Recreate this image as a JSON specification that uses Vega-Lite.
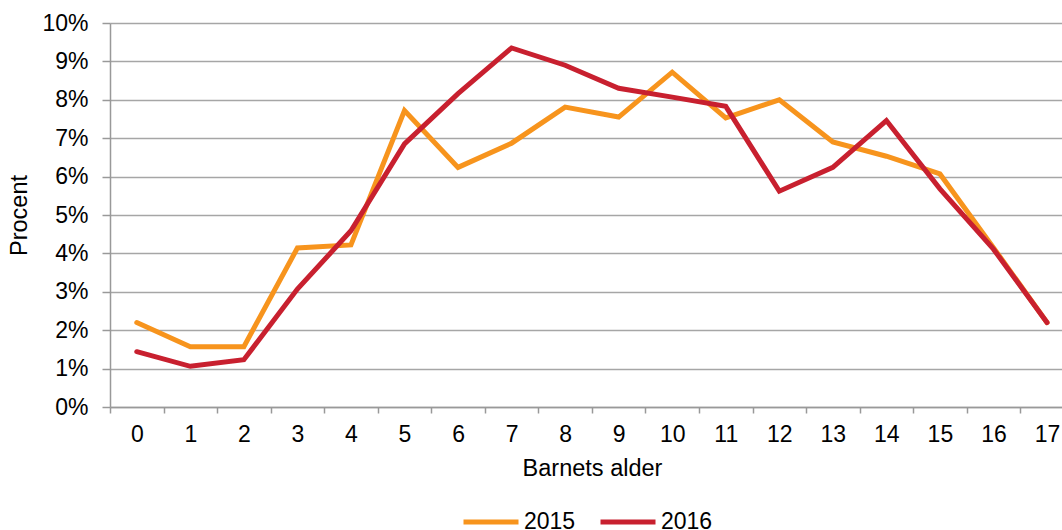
{
  "$schema": "https://vega.github.io/schema/vega-lite/v6.json",
  "width": 952,
  "height": 384,
  "autosize": {"type": "none"},
  "padding": {"left": 110, "top": 23, "right": 0, "bottom": 123},
  "background": "white",
  "config": {
    "font": "Liberation Sans",
    "view": {"stroke": null},
    "axis": {"labelFont": "Liberation Sans", "titleFont": "Liberation Sans", "labelColor": "#000", "titleColor": "#000", "titleFontWeight": "normal", "labelFontSize": 23, "titleFontSize": 23.5},
    "legend": {"labelFont": "Liberation Sans", "labelFontSize": 23, "labelColor": "#000"}
  },
  "data": {
    "values": [
      {"alder": 0, "aar": "2015", "andel": 0.0220},
      {"alder": 1, "aar": "2015", "andel": 0.0157},
      {"alder": 2, "aar": "2015", "andel": 0.0157},
      {"alder": 3, "aar": "2015", "andel": 0.0414},
      {"alder": 4, "aar": "2015", "andel": 0.0422},
      {"alder": 5, "aar": "2015", "andel": 0.0772},
      {"alder": 6, "aar": "2015", "andel": 0.0624},
      {"alder": 7, "aar": "2015", "andel": 0.0687},
      {"alder": 8, "aar": "2015", "andel": 0.0781},
      {"alder": 9, "aar": "2015", "andel": 0.0755},
      {"alder": 10, "aar": "2015", "andel": 0.0872},
      {"alder": 11, "aar": "2015", "andel": 0.0753},
      {"alder": 12, "aar": "2015", "andel": 0.0800},
      {"alder": 13, "aar": "2015", "andel": 0.0690},
      {"alder": 14, "aar": "2015", "andel": 0.0653},
      {"alder": 15, "aar": "2015", "andel": 0.0607},
      {"alder": 16, "aar": "2015", "andel": 0.0415},
      {"alder": 17, "aar": "2015", "andel": 0.0220},
      {"alder": 0, "aar": "2016", "andel": 0.0144},
      {"alder": 1, "aar": "2016", "andel": 0.0106},
      {"alder": 2, "aar": "2016", "andel": 0.0123},
      {"alder": 3, "aar": "2016", "andel": 0.0307},
      {"alder": 4, "aar": "2016", "andel": 0.0459},
      {"alder": 5, "aar": "2016", "andel": 0.0685},
      {"alder": 6, "aar": "2016", "andel": 0.0816},
      {"alder": 7, "aar": "2016", "andel": 0.0935},
      {"alder": 8, "aar": "2016", "andel": 0.0890},
      {"alder": 9, "aar": "2016", "andel": 0.0830},
      {"alder": 10, "aar": "2016", "andel": 0.0807},
      {"alder": 11, "aar": "2016", "andel": 0.0783},
      {"alder": 12, "aar": "2016", "andel": 0.0562},
      {"alder": 13, "aar": "2016", "andel": 0.0624},
      {"alder": 14, "aar": "2016", "andel": 0.0746},
      {"alder": 15, "aar": "2016", "andel": 0.0568},
      {"alder": 16, "aar": "2016", "andel": 0.0411},
      {"alder": 17, "aar": "2016", "andel": 0.0220}
    ]
  },
  "mark": {"type": "line", "strokeWidth": 5, "strokeCap": "round", "strokeJoin": "miter"},
  "encoding": {
    "x": {
      "field": "alder",
      "type": "quantitative",
      "title": "Barnets alder",
      "scale": {"domain": [-0.5, 17.28], "nice": false, "zero": false},
      "axis": {
        "values": [0,1,2,3,4,5,6,7,8,9,10,11,12,13,14,15,16,17],
        "grid": false,
        "tickOffset": -26.77,
        "labelOffset": 26.77,
        "tickSize": 6,
        "tickColor": "#999999",
        "tickWidth": 1.5,
        "domainColor": "#999999",
        "domainWidth": 1.5,
        "labelPadding": 10,
        "titlePadding": 10,
        "titleX": 482,
        "labelFlush": false,
        "labelOverlap": false
      }
    },
    "y": {
      "field": "andel",
      "type": "quantitative",
      "title": "Procent",
      "scale": {"domain": [0, 0.1], "nice": false},
      "axis": {
        "values": [0, 0.01, 0.02, 0.03, 0.04, 0.05, 0.06, 0.07, 0.08, 0.09, 0.1],
        "format": ".0%",
        "gridColor": "#a6a6a6",
        "gridWidth": 1.5,
        "tickSize": 8,
        "tickColor": "#999999",
        "tickWidth": 1.5,
        "domainColor": "#999999",
        "domainWidth": 1.5,
        "labelPadding": 14,
        "titlePadding": 10,
        "labelFlush": false,
        "labelOverlap": false
      }
    },
    "color": {
      "field": "aar",
      "type": "nominal",
      "scale": {"domain": ["2015", "2016"], "range": ["#F7941D", "#C8202F"]},
      "legend": {
        "title": null,
        "orient": "none",
        "legendX": 351,
        "legendY": 469,
        "direction": "horizontal",
        "symbolType": "stroke",
        "symbolSize": 3025,
        "symbolStrokeWidth": 5,
        "labelOffset": 3,
        "columnPadding": 14,
        "padding": 0
      }
    }
  }
}
